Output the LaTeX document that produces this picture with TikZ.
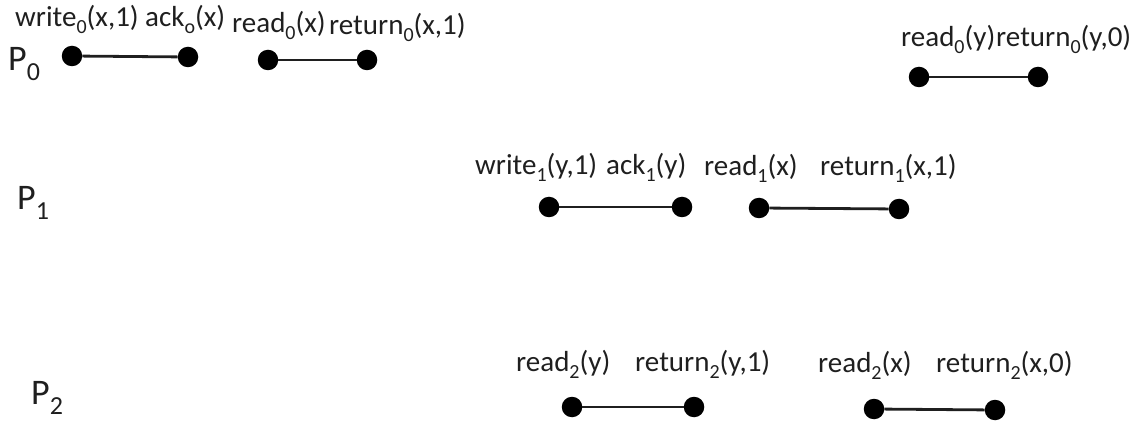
\documentclass[tikz,border=0pt]{standalone}
\usepackage{fontspec}
\setmainfont{Carlito}
\newcommand\lsub[1]{\raisebox{-7pt}{\fontsize{20}{20}\selectfont #1}}
\newcommand\psub[1]{\raisebox{-10pt}{\fontsize{26}{26}\selectfont #1}}
\tikzset{
  dot/.style={circle, fill=black, minimum size=20.5pt, inner sep=0pt},
  seg/.style={line width=2.8pt, draw=black!88},
  lbl/.style={anchor=base west, inner sep=0pt, font=\fontsize{29}{29}\selectfont, text=black!88},
  plbl/.style={anchor=base west, inner sep=0pt, font=\fontsize{36}{36}\selectfont, text=black!88}
}
\begin{document}
\begin{tikzpicture}[x=1pt, y=-1pt]
\useasboundingbox (0,0) rectangle (1145,427);
% process labels
\node[plbl] (p0) at (8,71) {P\psub{0}};
\node[plbl] (p1) at (17,210) {P\psub{1}};
\node[plbl] (p2) at (31,404) {P\psub{2}};
% P0 row
\node[dot] (a1) at (72,56) {};
\node[dot] (a2) at (188,57) {};
\node[dot] (a3) at (268,60) {};
\node[dot] (a4) at (367,60) {};
\node[dot] (a5) at (919,77) {};
\node[dot] (a6) at (1038,77) {};
\draw[seg] (a1) -- (a2);
\draw[seg] (a3) -- (a4);
\draw[seg] (a5) -- (a6);
\node[lbl] (la1) at (15,27) {write\lsub{0}(x,1)};
\node[lbl] (la2) at (145,27) {ack\lsub{o}(x)};
\node[lbl] (la3) at (232,33) {read\lsub{0}(x)};
\node[lbl] (la4) at (329,35) {return\lsub{0}(x,1)};
\node[lbl] (la5) at (901,47) {read\lsub{0}(y)};
\node[lbl] (la6) at (996,47) {return\lsub{0}(y,0)};
% P1 row
\node[dot] (b1) at (549,207) {};
\node[dot] (b2) at (682,207) {};
\node[dot] (b3) at (759,208) {};
\node[dot] (b4) at (899,209) {};
\draw[seg] (b1) -- (b2);
\draw[seg] (b3) -- (b4);
\node[lbl] (lb1) at (475,175) {write\lsub{1}(y,1)};
\node[lbl] (lb2) at (606,175) {ack\lsub{1}(y)};
\node[lbl] (lb3) at (704,176) {read\lsub{1}(x)};
\node[lbl] (lb4) at (820,176) {return\lsub{1}(x,1)};
% P2 row
\node[dot] (c1) at (572,407) {};
\node[dot] (c2) at (694,407) {};
\node[dot] (c3) at (874,409) {};
\node[dot] (c4) at (995,410) {};
\draw[seg] (c1) -- (c2);
\draw[seg] (c3) -- (c4);
\node[lbl] (lc1) at (516,371) {read\lsub{2}(y)};
\node[lbl] (lc2) at (635,371) {return\lsub{2}(y,1)};
\node[lbl] (lc3) at (818,372) {read\lsub{2}(x)};
\node[lbl] (lc4) at (936,372) {return\lsub{2}(x,0)};
\end{tikzpicture}
\end{document}
